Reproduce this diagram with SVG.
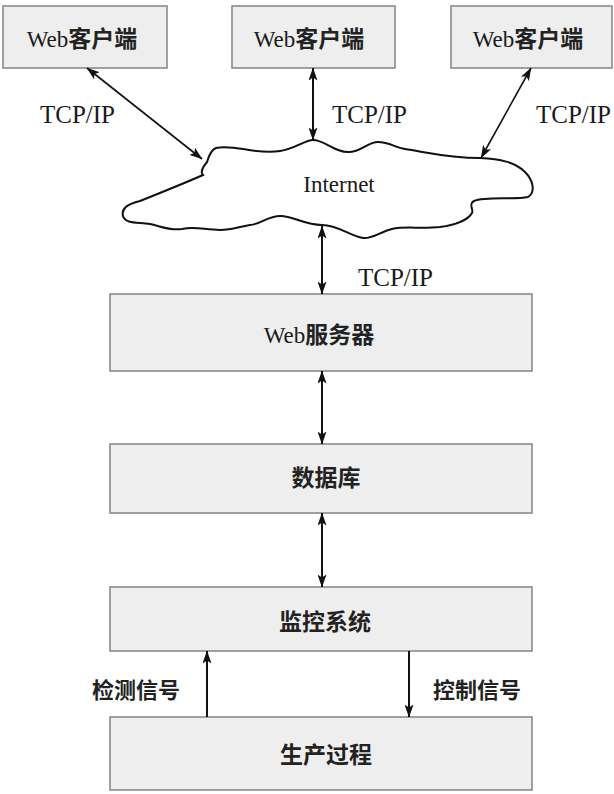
<svg xmlns="http://www.w3.org/2000/svg" width="614" height="794" viewBox="0 0 614 794">
<style>
.box{fill:#eeeeee;stroke:#8a8a8a;stroke-width:1.6}
.lat{font-family:"Liberation Serif","Noto Sans CJK SC",serif;fill:#1a1a1a}
.cjk{font-family:"Noto Sans CJK SC",sans-serif;font-weight:bold;fill:#222}
.ln{stroke:#111;stroke-width:2;fill:none}
</style>
<defs>
<marker id="ah" viewBox="0 0 13 9" refX="12.5" refY="4.5" markerWidth="13" markerHeight="9" markerUnits="userSpaceOnUse" orient="auto-start-reverse">
<path d="M0,0 L13,4.5 L0,9 L3,4.5 Z" fill="#111"/>
</marker>
</defs>
<rect width="614" height="794" fill="#ffffff"/>

<g id="client1">
<rect class="box" x="3" y="6" width="164" height="62"/>
<text class="lat" x="82" y="47" font-size="23" text-anchor="middle">Web<tspan class="cjk" font-size="23">客户端</tspan></text>
</g>
<g id="client2">
<rect class="box" x="232" y="6" width="163" height="62"/>
<text class="lat" x="309" y="47" font-size="23" text-anchor="middle">Web<tspan class="cjk" font-size="23">客户端</tspan></text>
</g>
<g id="client3">
<rect class="box" x="451" y="6" width="161" height="62"/>
<text class="lat" x="528" y="47" font-size="23" text-anchor="middle">Web<tspan class="cjk" font-size="23">客户端</tspan></text>
</g>

<g id="internet">
<path d="M207,162 C209,155 211,150 216,148 C235,144 255,155 280,151 C295,149 305,140 313,140 C325,140 335,153 350,152 C362,151 368,142 378,142 C390,142 395,148 405,149 C430,153 450,158 480,158 C500,159 515,162 525,172 C533,180 536,192 528,197 C515,200 485,196 474,201 C468,204 474,210 472,213 C468,220 455,225 440,227 C420,229 405,226 392,229 C380,232 372,239 363,238 C350,236 338,225 322,225 C305,225 295,217 282,216 C268,215 262,224 250,225 C238,227 232,230 220,230 C205,230 195,226 182,229 C170,231 160,226 150,224 C138,222 125,224 123,216 C121,208 128,204 140,201 C160,193 185,183 203,175 C200,172 202,168 207,162 Z" fill="#ffffff" stroke="#111" stroke-width="2"/>
<text class="lat" x="339" y="192" font-size="23" text-anchor="middle">Internet</text>
</g>

<g id="webserver">
<rect class="box" x="110" y="294" width="422" height="77"/>
<text class="lat" x="319" y="343" font-size="23" text-anchor="middle">Web<tspan class="cjk" font-size="23">服务器</tspan></text>
</g>
<g id="database">
<rect class="box" x="110" y="444" width="422" height="69"/>
<text class="cjk" x="326" y="486" font-size="23" text-anchor="middle">数据库</text>
</g>
<g id="monitor">
<rect class="box" x="110" y="587" width="422" height="64"/>
<text class="cjk" x="325" y="630" font-size="23" text-anchor="middle">监控系统</text>
</g>
<g id="process">
<rect class="box" x="110" y="717" width="422" height="73"/>
<text class="cjk" x="326" y="763" font-size="23" text-anchor="middle">生产过程</text>
</g>

<g id="connectors">
<line class="ln" x1="87" y1="68" x2="202" y2="159" marker-start="url(#ah)" marker-end="url(#ah)" style="stroke-width:1.6"/>
<line class="ln" x1="313" y1="68" x2="313" y2="140" marker-start="url(#ah)" marker-end="url(#ah)"/>
<line class="ln" x1="531" y1="68" x2="481" y2="158" marker-start="url(#ah)" marker-end="url(#ah)" style="stroke-width:1.6"/>
<line class="ln" x1="322" y1="226" x2="322" y2="294" marker-start="url(#ah)" marker-end="url(#ah)"/>
<line class="ln" x1="322" y1="371" x2="322" y2="444" marker-start="url(#ah)" marker-end="url(#ah)"/>
<line class="ln" x1="322" y1="513" x2="322" y2="587" marker-start="url(#ah)" marker-end="url(#ah)"/>
<line class="ln" x1="207" y1="717" x2="207" y2="651" marker-end="url(#ah)"/>
<line class="ln" x1="409" y1="651" x2="409" y2="717" marker-end="url(#ah)"/>
<text class="lat" x="40" y="123" font-size="25">TCP/IP</text>
<text class="lat" x="332" y="123" font-size="25">TCP/IP</text>
<text class="lat" x="536" y="123" font-size="25">TCP/IP</text>
<text class="lat" x="358" y="286" font-size="25">TCP/IP</text>
<text class="cjk" x="92" y="698" font-size="22">检测信号</text>
<text class="cjk" x="433" y="698" font-size="22">控制信号</text>
</g>
</svg>
